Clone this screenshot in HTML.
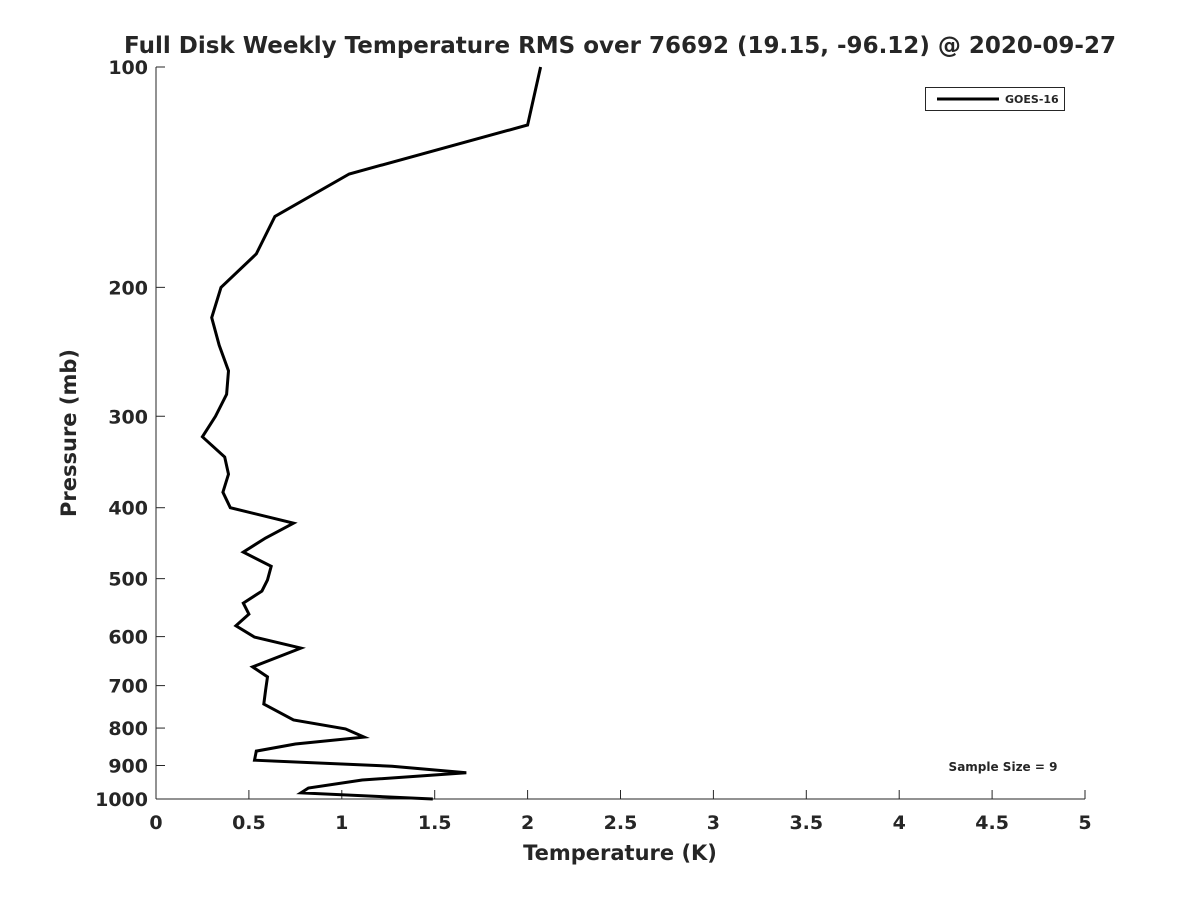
<!DOCTYPE html>
<html><head><meta charset="utf-8"><style>body{margin:0;background:#fff}svg text{font-family:"DejaVu Sans","Liberation Sans",sans-serif;font-weight:bold;fill:#262626}</style></head>
<body>
<svg width="1200" height="900">
<g id="axes"></g><g id="plot"></g>
</svg>
<script>
const temps=[2.07,2.00,1.04,0.64,0.54,0.35,0.30,0.34,0.39,0.38,0.32,0.25,0.37,0.39,0.36,0.40,0.74,0.59,0.47,0.62,0.60,0.57,0.47,0.50,0.43,0.53,0.78,0.52,0.60,0.59,0.58,0.74,1.02,1.12,0.75,0.54,0.53,1.27,1.67,1.11,0.82,0.78,1.49];
const pressures=[100,120,140,160,180,200,220,240,260,280,300,320,341,360,381,400,420,440,460,481,502,520,540,559,580,601,622,660,681,710,742,780,802,823,841,860,885,902,921,942,966,981,1000];
const xTicks=[0,0.5,1,1.5,2,2.5,3,3.5,4,4.5,5];
const xTickLabels=["0","0.5","1","1.5","2","2.5","3","3.5","4","4.5","5"];
const yTicks=[100,200,300,400,500,600,700,800,900,1000];
const L=156,R=1085,T=67,B=799;
const xs=v=>L+(v-0)/5*(R-L);
const ys=p=>T+Math.log10(p/100)*(B-T);
const NS="http://www.w3.org/2000/svg";
const ax=document.getElementById('axes'),pl=document.getElementById('plot');
function mk(tag,at,par,txt){const e=document.createElementNS(NS,tag);for(const k in at)e.setAttribute(k,at[k]);if(txt!==undefined)e.textContent=txt;par.appendChild(e);return e;}
let e;
e=mk('line',{x1:L,y1:T,x2:L,y2:B,stroke:'#262626','stroke-width':1},ax);

e=mk('line',{x1:L,y1:B,x2:R,y2:B,stroke:'#262626','stroke-width':1},ax);

xTicks.forEach((v,i)=>{const x=xs(v);
e=mk('line',{x1:x,y1:B,x2:x,y2:B-9,stroke:'#262626'},ax);

e=mk('text',{x:x,y:B+30,'text-anchor':'middle','font-size':19},ax,xTickLabels[i]);
});
yTicks.forEach(p=>{const y=ys(p);
e=mk('line',{x1:L,y1:y,x2:L+9,y2:y,stroke:'#262626'},ax);

e=mk('text',{x:L-8,y:y+7,'text-anchor':'end','font-size':19},ax,String(p));
});
e=mk('text',{x:620,y:53,'text-anchor':'middle','font-size':23,fill:'#000'},ax,'Full Disk Weekly Temperature RMS over 76692 (19.15, -96.12) @ 2020-09-27');

e=mk('text',{x:620,y:860,'text-anchor':'middle','font-size':21},ax,'Temperature (K)');

e=mk('text',{x:76,y:433,'text-anchor':'middle','font-size':21,transform:'rotate(-90 76 433)'},ax,'Pressure (mb)');

const pts=temps.map((t,i)=>xs(t).toFixed(1)+','+ys(pressures[i]).toFixed(1)).join(' ');
e=mk('polyline',{points:pts,fill:'none',stroke:'#000','stroke-width':3,'stroke-linejoin':'miter'},pl);

const lg=mk('g',{},pl);

mk('rect',{x:925.5,y:87.5,width:139,height:23,fill:'#fff',stroke:'#262626'},lg);
mk('line',{x1:937,y1:99,x2:999,y2:99,stroke:'#000','stroke-width':3},lg);
e=mk('text',{x:1005,y:103,'font-size':11,fill:'#000'},lg,'GOES-16');

e=mk('text',{x:1003,y:771,'text-anchor':'middle','font-size':12,fill:'#000'},pl,'Sample Size = 9');

</script>
</body></html>
